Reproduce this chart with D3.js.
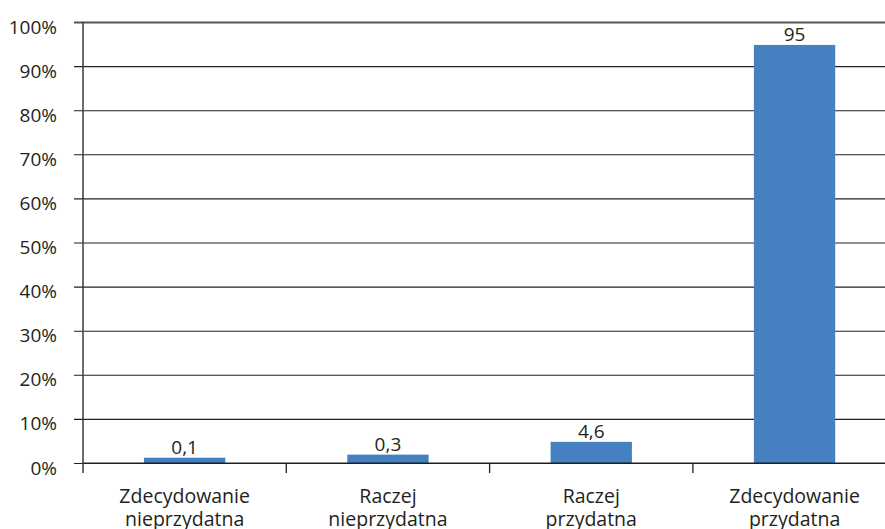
<!DOCTYPE html>
<html>
<head>
<meta charset="utf-8">
<script src="https://cdn.jsdelivr.net/npm/d3@7"></script>
<style>
  body { margin: 0; background: #fff; overflow: hidden; }
  text { font-family: "Open Sans", "Noto Sans", sans-serif; fill: #231f20; }
</style>
</head>
<body>
<div id="chart"></div>
<script>
// data
const categories = [["Zdecydowanie", "nieprzydatna"], ["Raczej", "nieprzydatna"], ["Raczej", "przydatna"], ["Zdecydowanie", "przydatna"]];
const valueLabels = ["0,1", "0,3", "4,6", "95"];
// bar heights as drawn in the picture (in %)
const barValues = [1.2, 1.9, 4.8, 94.8];
const yTicks = [0, 10, 20, 30, 40, 50, 60, 70, 80, 90, 100];

let width = 885, height = 529;
let margin = {top: 22, left: 83, bottom: 66};
let plotBottom = height - margin.bottom;

let svg = d3.select("#chart").append("svg")
  .attr("width", width)
  .attr("height", height);

let x = d3.scaleBand()
  .domain(d3.range(categories.length))
  .range([margin.left, margin.left + 4 * 203.3])
  .paddingInner(0.6)
  .paddingOuter(0.3);

let y = d3.scaleLinear()
  .domain([0, 100])
  .range([plotBottom, margin.top]);

// gridlines + y labels
let yAxis = svg.append("g")
  .attr("transform", "translate(" + margin.left + ",0)")
  .call(d3.axisLeft(y).tickValues(yTicks).tickFormat(d => d + "%")
    .tickSize(-(width - margin.left)).tickPadding(0));
yAxis.select(".domain").remove();
yAxis.selectAll(".tick line")
  .attr("x1", -9)
  .attr("stroke", d => d === 100 ? "#555" : "#231f20")
  .attr("stroke-width", d => d === 100 ? 2 : 1.1);
yAxis.selectAll(".tick text")
  .attr("x", -26)
  .attr("dy", "0.58em")
  .style("font-size", "19px")
  .attr("fill", "#231f20");

// y axis line
svg.append("line")
  .attr("x1", margin.left).attr("x2", margin.left)
  .attr("y1", y(100)).attr("y2", plotBottom + 10)
  .attr("stroke", "#3a3a3a").attr("stroke-width", 1.5);

// bars
svg.selectAll(".bar")
  .data(barValues)
  .join("rect")
  .attr("class", "bar")
  .attr("x", (d, i) => x(i))
  .attr("width", x.bandwidth())
  .attr("y", d => y(d))
  .attr("height", d => y(0) - y(d))
  .attr("fill", "#4580c1");

// value labels
svg.selectAll(".val")
  .data(barValues)
  .join("text")
  .attr("class", "val")
  .attr("x", (d, i) => x(i) + x.bandwidth() / 2)
  .attr("y", d => y(d) - 4)
  .attr("text-anchor", "middle")
  .style("font-size", "19px")
  .text((d, i) => valueLabels[i]);

// x axis line and ticks at band boundaries
svg.append("line")
  .attr("x1", margin.left).attr("x2", width)
  .attr("y1", plotBottom).attr("y2", plotBottom)
  .attr("stroke", "#231f20").attr("stroke-width", 1.2);

let step = x.step();
svg.selectAll(".xtick")
  .data(d3.range(1, categories.length))
  .join("line")
  .attr("class", "xtick")
  .attr("x1", i => margin.left + i * step)
  .attr("x2", i => margin.left + i * step)
  .attr("y1", plotBottom)
  .attr("y2", plotBottom + 10)
  .attr("stroke", "#231f20").attr("stroke-width", 1.3);

// category labels
let cat = svg.selectAll(".cat")
  .data(categories)
  .join("text")
  .attr("class", "cat")
  .attr("text-anchor", "middle")
  .style("font-size", "19.5px")
  .attr("transform", (d, i) => "translate(" + (x(i) + x.bandwidth() / 2) + "," + (plotBottom + 40) + ")");
cat.selectAll("tspan")
  .data(d => d)
  .join("tspan")
  .attr("x", 0)
  .attr("dy", (d, i) => i === 0 ? 0 : 23)
  .text(d => d);
</script>
</body>
</html>
